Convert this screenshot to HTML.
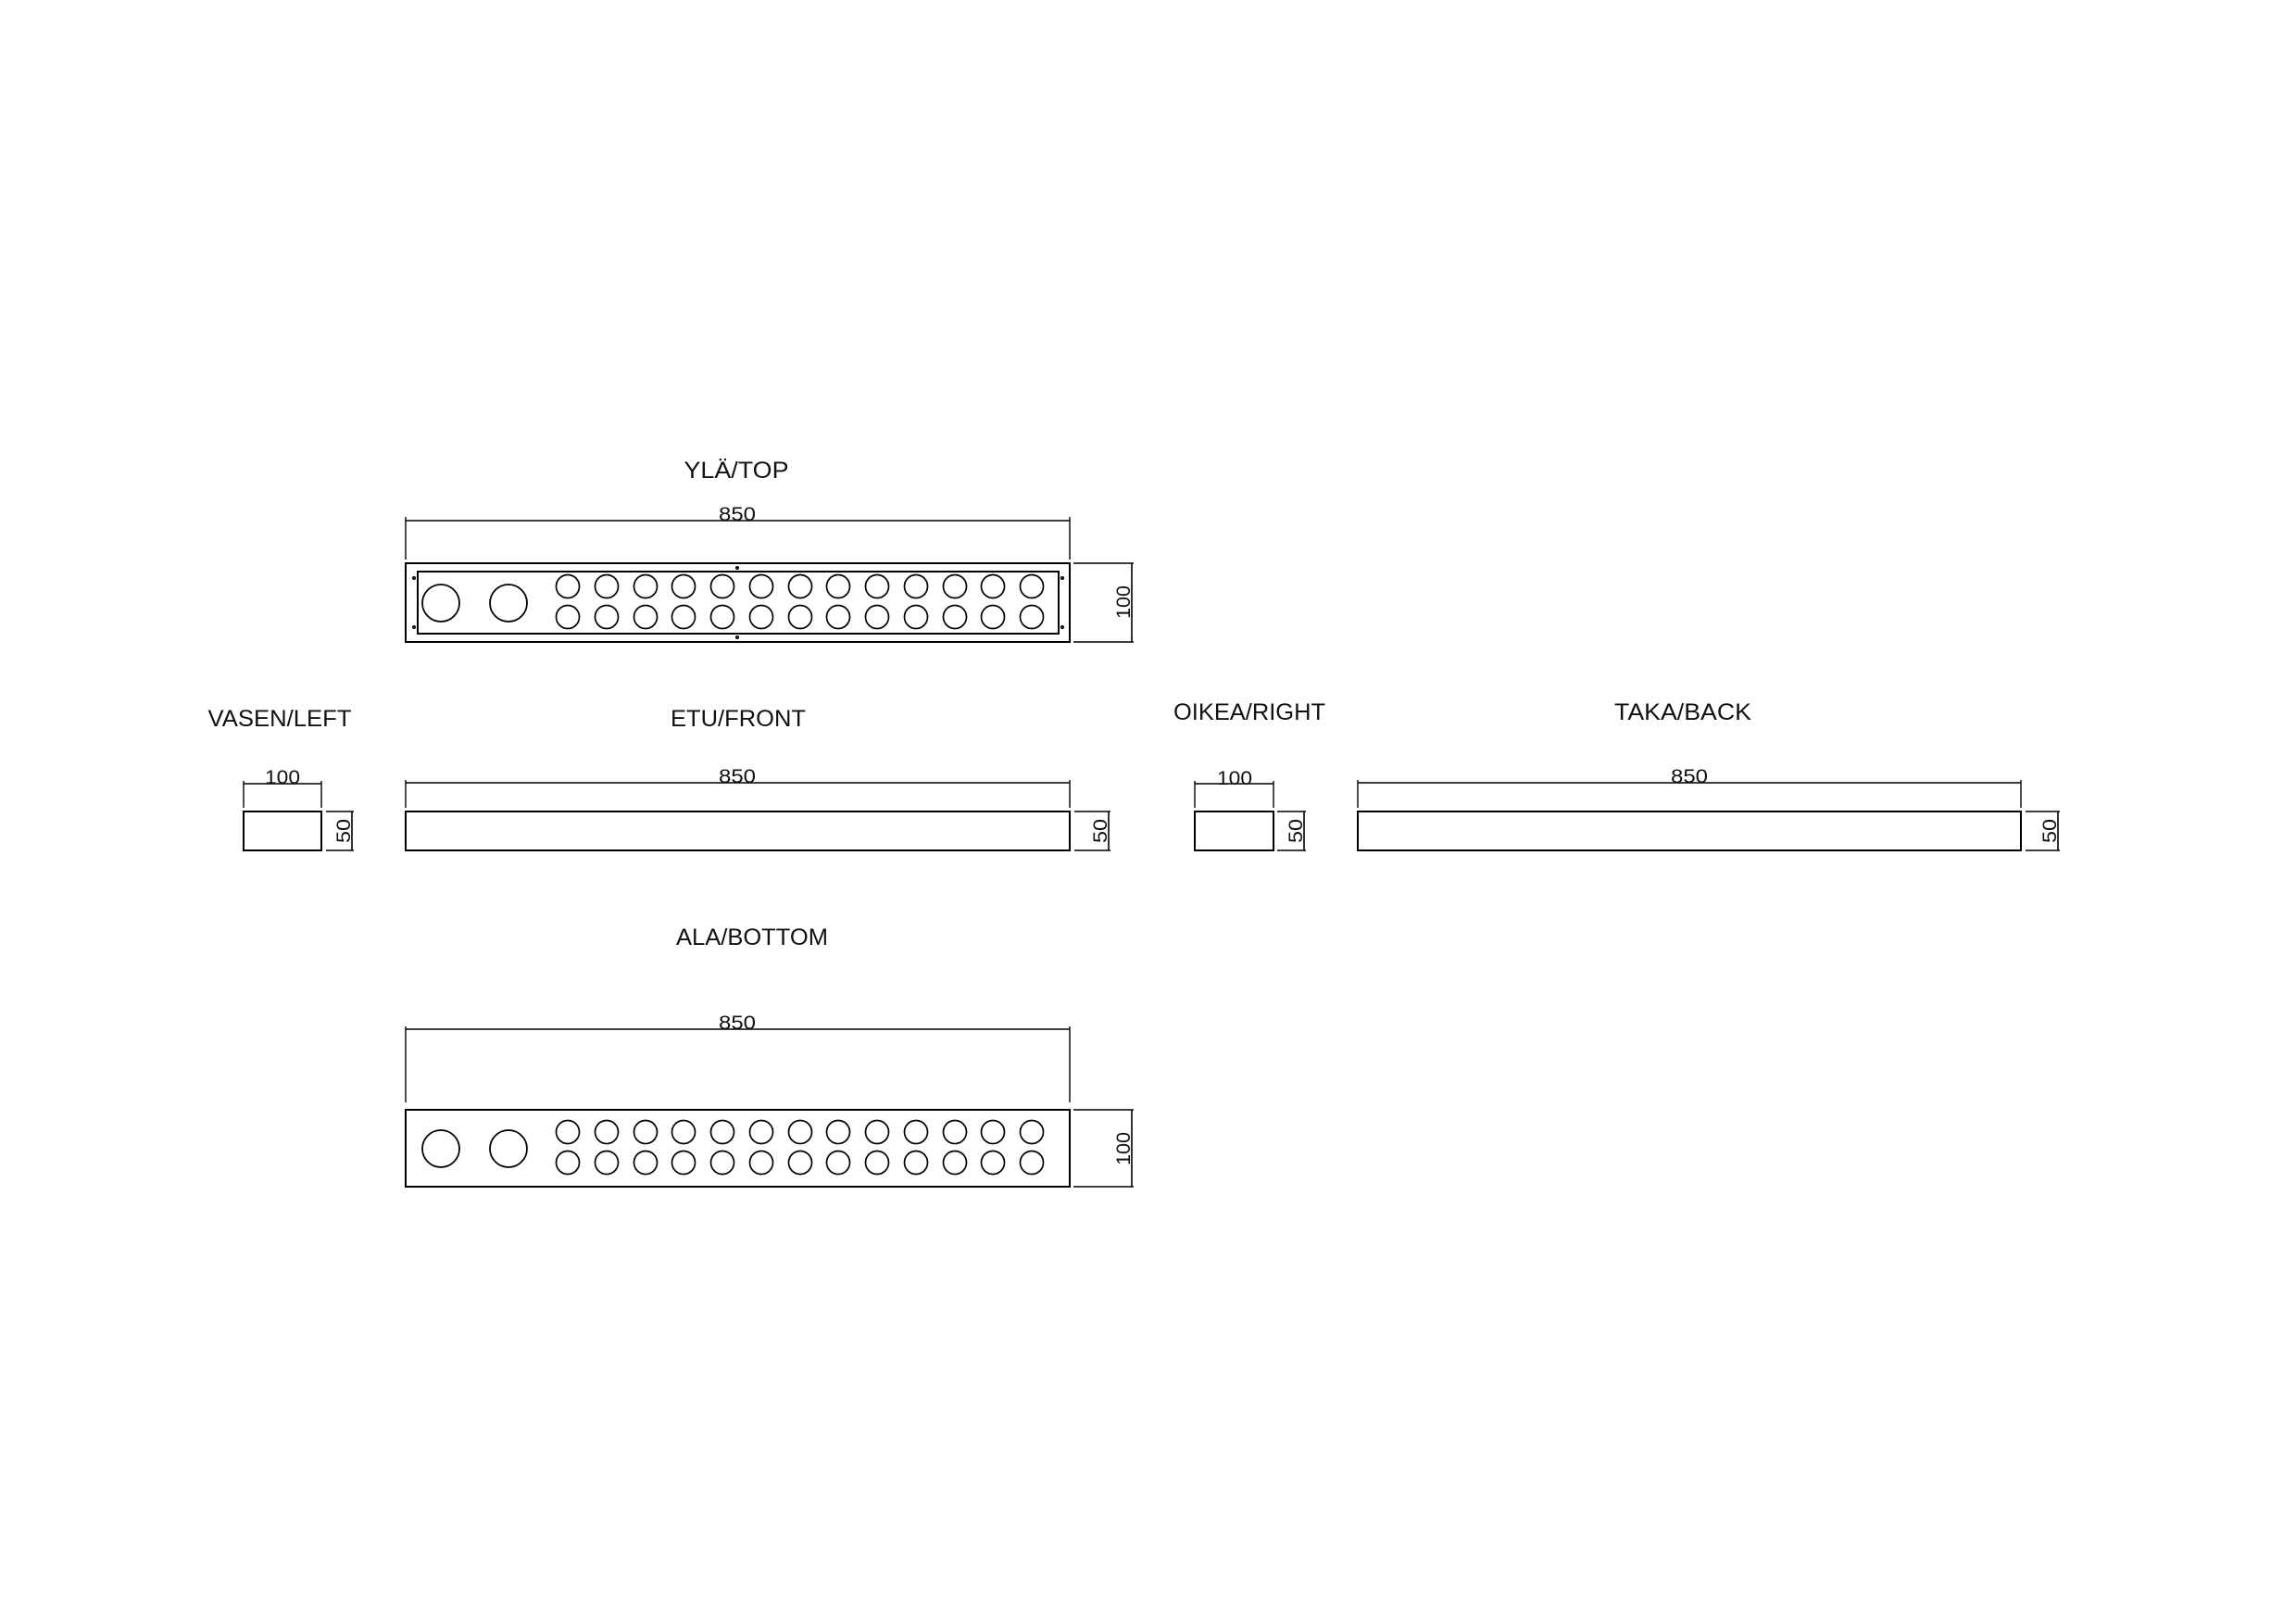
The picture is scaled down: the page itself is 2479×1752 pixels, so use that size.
<!DOCTYPE html>
<html><head><meta charset="utf-8"><style>
html,body{margin:0;padding:0;background:#fff}
svg{display:block}
text{font-family:"Liberation Sans",sans-serif;fill:#111}
</style></head><body>
<svg width="2479" height="1752" viewBox="0 0 2479 1752" xmlns="http://www.w3.org/2000/svg">
<rect width="2479" height="1752" fill="#fff"/>
<g fill="none" stroke="#000" stroke-width="2">
<!-- TOP -->
<rect x="438" y="608" width="717" height="85"/>
<rect x="451" y="617" width="692" height="67"/>
<line x1="438" y1="562" x2="1155" y2="562" stroke-width="1.6"/>
<line x1="438" y1="558" x2="438" y2="604" stroke-width="1.4"/>
<line x1="1155" y1="558" x2="1155" y2="604" stroke-width="1.4"/>
<line x1="1222" y1="608" x2="1222" y2="693" stroke-width="1.6"/>
<line x1="1159" y1="608" x2="1224" y2="608" stroke-width="1.4"/>
<line x1="1159" y1="693" x2="1224" y2="693" stroke-width="1.4"/>
<circle cx="476" cy="651" r="20" stroke-width="1.8"/>
<circle cx="549" cy="651" r="20" stroke-width="1.8"/>
<g stroke-width="1.6">
<circle cx="447" cy="624" r="1.2"/><circle cx="447" cy="677" r="1.2"/>
<circle cx="1147" cy="624" r="1.2"/><circle cx="1147" cy="677" r="1.2"/>
<circle cx="796" cy="613" r="1.2"/><circle cx="796" cy="688" r="1.2"/>
</g>
<!-- FRONT ROW -->
<rect x="263" y="876" width="84" height="42"/>
<line x1="263" y1="846" x2="347" y2="846" stroke-width="1.6"/>
<line x1="263" y1="843" x2="263" y2="872" stroke-width="1.4"/>
<line x1="347" y1="843" x2="347" y2="872" stroke-width="1.4"/>
<line x1="380" y1="876" x2="380" y2="918" stroke-width="1.6"/>
<line x1="352" y1="876" x2="382" y2="876" stroke-width="1.4"/>
<line x1="352" y1="918" x2="382" y2="918" stroke-width="1.4"/>

<rect x="438" y="876" width="717" height="42"/>
<line x1="438" y1="845" x2="1155" y2="845" stroke-width="1.6"/>
<line x1="438" y1="842" x2="438" y2="872" stroke-width="1.4"/>
<line x1="1155" y1="842" x2="1155" y2="872" stroke-width="1.4"/>
<line x1="1197" y1="876" x2="1197" y2="918" stroke-width="1.6"/>
<line x1="1160" y1="876" x2="1199" y2="876" stroke-width="1.4"/>
<line x1="1160" y1="918" x2="1199" y2="918" stroke-width="1.4"/>

<rect x="1290" y="876" width="85" height="42"/>
<line x1="1290" y1="846" x2="1375" y2="846" stroke-width="1.6"/>
<line x1="1290" y1="843" x2="1290" y2="872" stroke-width="1.4"/>
<line x1="1375" y1="843" x2="1375" y2="872" stroke-width="1.4"/>
<line x1="1408" y1="876" x2="1408" y2="918" stroke-width="1.6"/>
<line x1="1379" y1="876" x2="1410" y2="876" stroke-width="1.4"/>
<line x1="1379" y1="918" x2="1410" y2="918" stroke-width="1.4"/>

<rect x="1466" y="876" width="716" height="42"/>
<line x1="1466" y1="845" x2="2182" y2="845" stroke-width="1.6"/>
<line x1="1466" y1="842" x2="1466" y2="872" stroke-width="1.4"/>
<line x1="2182" y1="842" x2="2182" y2="872" stroke-width="1.4"/>
<line x1="2222" y1="876" x2="2222" y2="918" stroke-width="1.6"/>
<line x1="2187" y1="876" x2="2224" y2="876" stroke-width="1.4"/>
<line x1="2187" y1="918" x2="2224" y2="918" stroke-width="1.4"/>

<!-- BOTTOM -->
<rect x="438" y="1198" width="717" height="83"/>
<line x1="438" y1="1111" x2="1155" y2="1111" stroke-width="1.6"/>
<line x1="438" y1="1108" x2="438" y2="1190" stroke-width="1.4"/>
<line x1="1155" y1="1108" x2="1155" y2="1190" stroke-width="1.4"/>
<line x1="1222" y1="1198" x2="1222" y2="1281" stroke-width="1.6"/>
<line x1="1159" y1="1198" x2="1224" y2="1198" stroke-width="1.4"/>
<line x1="1159" y1="1281" x2="1224" y2="1281" stroke-width="1.4"/>
<circle cx="476" cy="1240" r="20" stroke-width="1.8"/>
<circle cx="549" cy="1240" r="20" stroke-width="1.8"/>
</g>
<g fill="none" stroke="#000" stroke-width="1.7">
<circle cx="613" cy="633" r="12.5"/><circle cx="655" cy="633" r="12.5"/><circle cx="697" cy="633" r="12.5"/><circle cx="738" cy="633" r="12.5"/><circle cx="780" cy="633" r="12.5"/><circle cx="822" cy="633" r="12.5"/><circle cx="864" cy="633" r="12.5"/><circle cx="905" cy="633" r="12.5"/><circle cx="947" cy="633" r="12.5"/><circle cx="989" cy="633" r="12.5"/><circle cx="1031" cy="633" r="12.5"/><circle cx="1072" cy="633" r="12.5"/><circle cx="1114" cy="633" r="12.5"/>
<circle cx="613" cy="666" r="12.5"/><circle cx="655" cy="666" r="12.5"/><circle cx="697" cy="666" r="12.5"/><circle cx="738" cy="666" r="12.5"/><circle cx="780" cy="666" r="12.5"/><circle cx="822" cy="666" r="12.5"/><circle cx="864" cy="666" r="12.5"/><circle cx="905" cy="666" r="12.5"/><circle cx="947" cy="666" r="12.5"/><circle cx="989" cy="666" r="12.5"/><circle cx="1031" cy="666" r="12.5"/><circle cx="1072" cy="666" r="12.5"/><circle cx="1114" cy="666" r="12.5"/>
<circle cx="613" cy="1222" r="12.5"/><circle cx="655" cy="1222" r="12.5"/><circle cx="697" cy="1222" r="12.5"/><circle cx="738" cy="1222" r="12.5"/><circle cx="780" cy="1222" r="12.5"/><circle cx="822" cy="1222" r="12.5"/><circle cx="864" cy="1222" r="12.5"/><circle cx="905" cy="1222" r="12.5"/><circle cx="947" cy="1222" r="12.5"/><circle cx="989" cy="1222" r="12.5"/><circle cx="1031" cy="1222" r="12.5"/><circle cx="1072" cy="1222" r="12.5"/><circle cx="1114" cy="1222" r="12.5"/>
<circle cx="613" cy="1255" r="12.5"/><circle cx="655" cy="1255" r="12.5"/><circle cx="697" cy="1255" r="12.5"/><circle cx="738" cy="1255" r="12.5"/><circle cx="780" cy="1255" r="12.5"/><circle cx="822" cy="1255" r="12.5"/><circle cx="864" cy="1255" r="12.5"/><circle cx="905" cy="1255" r="12.5"/><circle cx="947" cy="1255" r="12.5"/><circle cx="989" cy="1255" r="12.5"/><circle cx="1031" cy="1255" r="12.5"/><circle cx="1072" cy="1255" r="12.5"/><circle cx="1114" cy="1255" r="12.5"/>
</g>
<g font-size="25" text-anchor="middle">
<text x="795" y="516" textLength="113" lengthAdjust="spacingAndGlyphs">YLÄ/TOP</text>
<text x="302" y="784" textLength="155" lengthAdjust="spacingAndGlyphs">VASEN/LEFT</text>
<text x="797" y="784" textLength="146" lengthAdjust="spacingAndGlyphs">ETU/FRONT</text>
<text x="1349" y="777" textLength="164" lengthAdjust="spacingAndGlyphs">OIKEA/RIGHT</text>
<text x="1817" y="777" textLength="148" lengthAdjust="spacingAndGlyphs">TAKA/BACK</text>
<text x="812" y="1020" textLength="164" lengthAdjust="spacingAndGlyphs">ALA/BOTTOM</text>
</g>
<g font-size="21" text-anchor="middle">
<text x="796" y="562" textLength="40" lengthAdjust="spacingAndGlyphs">850</text>
<text x="305" y="846" textLength="38" lengthAdjust="spacingAndGlyphs">100</text>
<text x="796" y="845" textLength="40" lengthAdjust="spacingAndGlyphs">850</text>
<text x="1333" y="847" textLength="38" lengthAdjust="spacingAndGlyphs">100</text>
<text x="1824" y="845" textLength="40" lengthAdjust="spacingAndGlyphs">850</text>
<text x="796" y="1111" textLength="40" lengthAdjust="spacingAndGlyphs">850</text>
<text transform="translate(1220,650) rotate(-90)" textLength="36" lengthAdjust="spacingAndGlyphs">100</text>
<text transform="translate(1220,1240) rotate(-90)" textLength="36" lengthAdjust="spacingAndGlyphs">100</text>
<text transform="translate(378,897) rotate(-90)" textLength="26" lengthAdjust="spacingAndGlyphs">50</text>
<text transform="translate(1195,897) rotate(-90)" textLength="26" lengthAdjust="spacingAndGlyphs">50</text>
<text transform="translate(1406,897) rotate(-90)" textLength="26" lengthAdjust="spacingAndGlyphs">50</text>
<text transform="translate(2220,897) rotate(-90)" textLength="26" lengthAdjust="spacingAndGlyphs">50</text>
</g>
</svg>
</body></html>
